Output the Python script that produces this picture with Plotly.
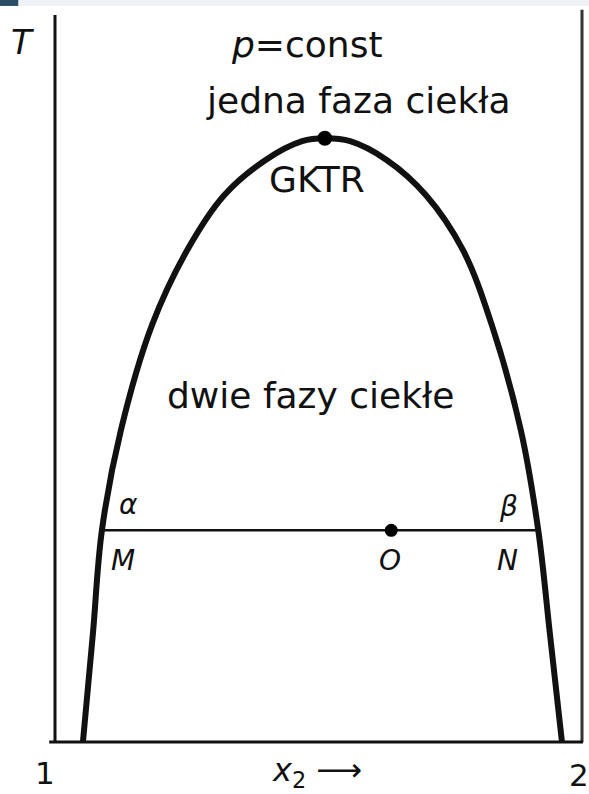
import plotly.graph_objects as go

# Binodal (liquid-liquid coexistence) curve, mole fraction x2 vs temperature T (relative units)
binodal_x2 = [0.053, 0.072, 0.089, 0.125, 0.184, 0.251, 0.321, 0.399, 0.469, 0.512,
              0.560, 0.630, 0.704, 0.774, 0.829, 0.884, 0.917, 0.939, 0.962]
binodal_T = [0.000, 0.149, 0.290, 0.427, 0.571, 0.674, 0.749, 0.797, 0.823, 0.827,
             0.823, 0.797, 0.749, 0.674, 0.571, 0.427, 0.290, 0.149, 0.000]

# Upper critical solution point (GKTR)
critical_x2 = 0.512
critical_T = 0.827

# Tie line M-N at one temperature with overall composition O
tie_T = 0.290
tie_x2 = [0.089, 0.917]
point_O_x2 = 0.638

tick_vals = [0, 1]
tick_text = ["1", "2"]

FONT = "DejaVu Sans"
INK = "#111111"

fig = go.Figure()

fig.add_trace(go.Scatter(
    x=binodal_x2, y=binodal_T, mode="lines",
    line=dict(color=INK, width=6, shape="spline", smoothing=1.0),
    hoverinfo="skip", showlegend=False))

fig.add_trace(go.Scatter(
    x=tie_x2, y=[tie_T, tie_T], mode="lines",
    line=dict(color=INK, width=2.5),
    hoverinfo="skip", showlegend=False))

for px, py, sz in [(critical_x2, critical_T, 15), (point_O_x2, tie_T, 13)]:
    fig.add_trace(go.Scatter(
        x=[px], y=[py], mode="markers",
        marker=dict(color="#000000", size=sz, opacity=1, line=dict(width=0)),
        hoverinfo="skip", showlegend=False))

# frame: two vertical boundaries (pure components) and the baseline
fig.add_shape(type="line", x0=0, x1=0, y0=0, y1=0.996, line=dict(color=INK, width=3))
fig.add_shape(type="line", x0=1, x1=1, y0=0, y1=1.003, line=dict(color="#333333", width=3))
fig.add_shape(type="line", x0=-0.011, x1=1.002, y0=0, y1=0, line=dict(color=INK, width=3))

# thin strip along the top edge of the page
fig.add_shape(type="rect", xref="paper", yref="paper", x0=0, x1=1, y0=0.9925, y1=1,
              fillcolor="#eef2f6", line=dict(width=0), layer="below")
fig.add_shape(type="rect", xref="paper", yref="paper", x0=0, x1=0.031, y0=0.9925, y1=1,
              fillcolor="#2c4d66", line=dict(width=0))


def label(text, x, y, size=30, italic=False, xanchor="center"):
    fig.add_annotation(
        x=x, y=y, text=(f"<i>{text}</i>" if italic else text), showarrow=False,
        xanchor=xanchor, yanchor="middle",
        font=dict(family=FONT, size=size, color=INK))


label("<i>p</i>=const", 0.478, 0.955, size=36)
label("jedna faza ciekła", 0.576, 0.879, size=36)
label("GKTR", 0.497, 0.770, size=36)
label("dwie fazy ciekłe", 0.485, 0.475, size=36)
label("α", 0.139, 0.325, size=28, italic=True)
label("β", 0.860, 0.322, size=28, italic=True)
label("M", 0.129, 0.249, size=28, italic=True)
label("O", 0.636, 0.249, size=28, italic=True)
label("N", 0.858, 0.249, size=28, italic=True)
label("T", -0.062, 0.959, size=34, italic=True)

# composition axis labels
for v, t in zip(tick_vals, tick_text):
    if v == 0:
        label(t, v - 0.019, -0.043, size=31)
    else:
        label(t, v - 0.006, -0.045, size=31)
label("<i>x</i><sub>2</sub> ⟶", 0.497, -0.041, size=32)

fig.update_xaxes(range=[-55 / 527, (589 - 55) / 527], visible=False, fixedrange=True)
fig.update_yaxes(range=[-(794 - 742) / 730, 742 / 730], visible=False, fixedrange=True)

fig.update_layout(
    width=589, height=794,
    margin=dict(l=0, r=0, t=0, b=0),
    paper_bgcolor="white", plot_bgcolor="white",
)

fig.write_html("out.html")
